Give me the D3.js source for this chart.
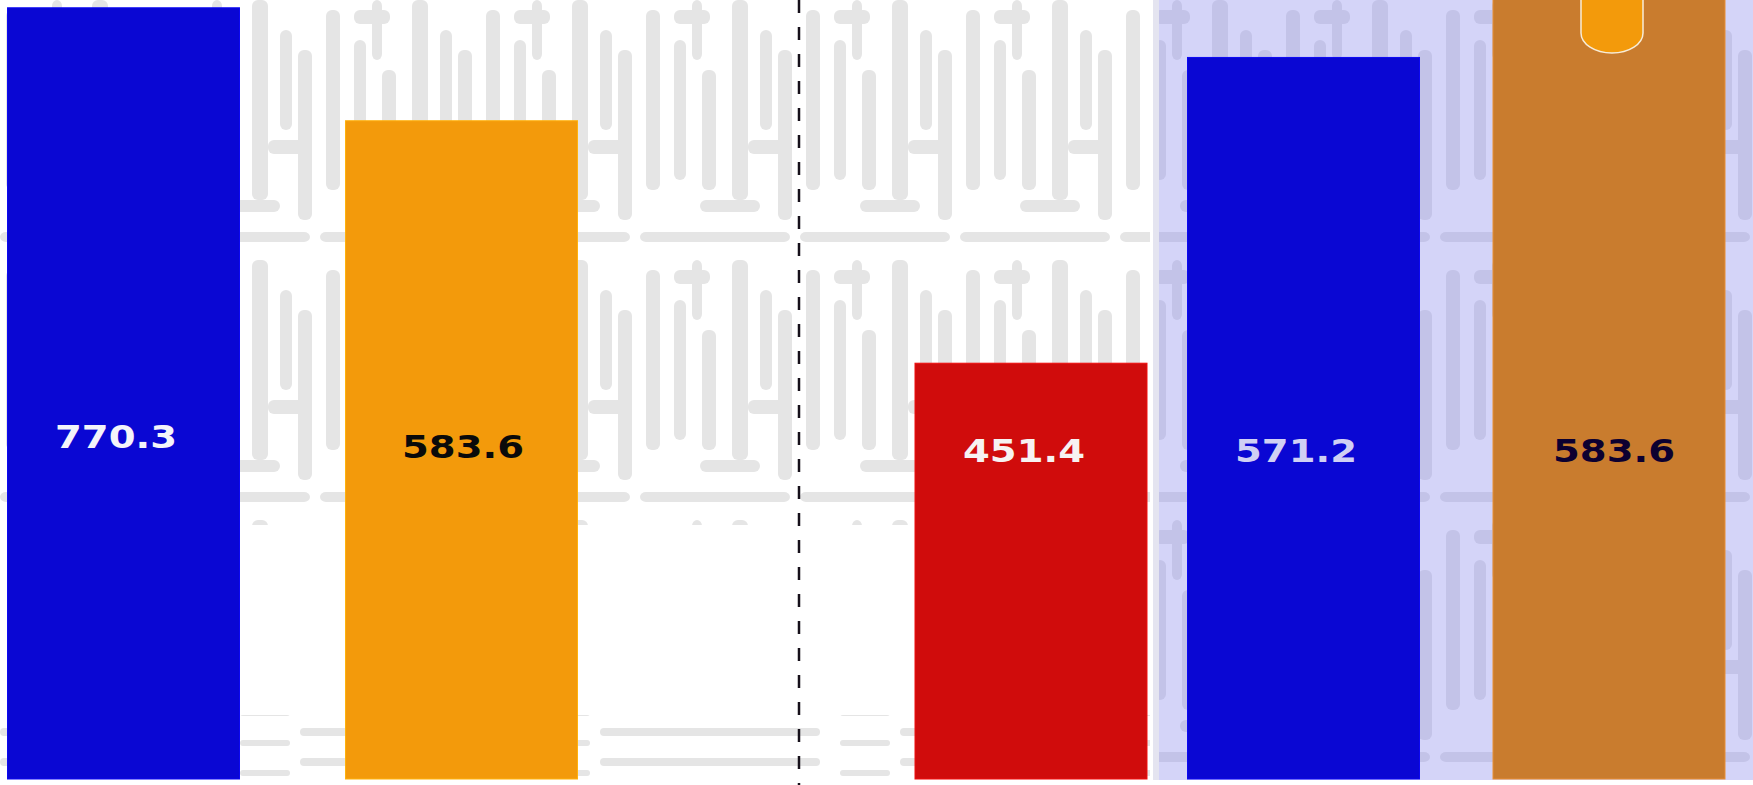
<!DOCTYPE html>
<html><head><meta charset="utf-8">
<script src="https://cdn.jsdelivr.net/npm/d3@7"></script>
<style>html,body{margin:0;padding:0;background:#fff;overflow:hidden}</style>
</head>
<body><svg id="c" width="1753" height="785"></svg>
<script>
// ---- data ----
const categories = ["A", "B", "C", "D", "E"];
const labels = [770.3, 583.6, 451.4, 571.2, 583.6];
// bar lengths as drawn in the picture, on a 0–800 scale
const barHeights = [792, 676, 427, 741, 815];
const barColors = ["#0a07d3", "#f39a0b", "#d00c0c", "#0a07d3", "#c97c2e"];
const labelColors = ["#f4f4fa", "#0a0a0a", "#f7f2f2", "#d0d0f4", "#0c0030"];

// ---- layout ----
const W = 1753, H = 785;
const svg = d3.select("#c");
const y = d3.scaleLinear().domain([0, 800]).range([779, 0]);
const x = d3.scaleOrdinal(categories, [123.5, 461.5, 1031, 1303.5, 1609]);
const labelX = d3.scaleOrdinal(categories, [116, 463, 1024, 1296, 1614]);
const labelY = d3.scaleOrdinal(categories, [437, 447, 451, 451, 451]);
const barW = 232;

// ---- background texture ----
const defs = svg.append("defs");
function tilePattern(id, fill) {
  const p = defs.append("pattern").attr("id", id).attr("patternUnits", "userSpaceOnUse")
    .attr("width", 160).attr("height", 260);
  const shapes = [[6,10,14,180],[34,40,12,140],[52,0,10,60],[62,70,14,120],[92,0,16,200],
                  [120,30,12,100],[138,50,14,170],[34,10,36,14],[108,140,40,14],[60,200,60,12],
                  [0,232,150,10]];
  p.selectAll("rect").data(shapes).join("rect")
    .attr("x", d => d[0]).attr("y", d => d[1]).attr("width", d => d[2]).attr("height", d => d[3])
    .attr("rx", 6).attr("fill", fill);
}
tilePattern("texG", "#e5e5e5");
tilePattern("texL", "#c3c3e8");
const streak = defs.append("pattern").attr("id", "streak").attr("patternUnits", "userSpaceOnUse")
  .attr("width", 300).attr("height", 30);
streak.append("rect").attr("x", 0).attr("y", 8).attr("width", 220).attr("height", 8).attr("rx", 4).attr("fill", "#e5e5e5");
streak.append("rect").attr("x", 240).attr("y", 20).attr("width", 50).attr("height", 6).attr("rx", 3).attr("fill", "#e5e5e5");

svg.append("rect").attr("width", W).attr("height", H).attr("fill", "#ffffff");
svg.append("rect").attr("x", 0).attr("y", 0).attr("width", 1150).attr("height", 525).attr("fill", "url(#texG)");
svg.append("rect").attr("x", 0).attr("y", 715).attr("width", 1150).attr("height", 70).attr("fill", "url(#streak)");

// highlighted region
svg.append("rect").attr("x", 1153).attr("y", 0).attr("width", 8).attr("height", 780).attr("fill", "#e4e4f0");
svg.append("rect").attr("x", 1159).attr("y", 0).attr("width", W - 1159).attr("height", 780).attr("fill", "#d4d4f8");
svg.append("rect").attr("x", 1159).attr("y", 0).attr("width", W - 1159).attr("height", 780).attr("fill", "url(#texL)");

// separator
svg.append("line").attr("x1", 799).attr("x2", 799).attr("y1", 0).attr("y2", H)
  .attr("stroke", "#16101a").attr("stroke-width", 2.5).attr("stroke-dasharray", "13,14");

// ---- bars ----
const data = categories.map((c, i) => ({c, v: labels[i], h: barHeights[i], fill: barColors[i], tc: labelColors[i]}));
svg.append("g").selectAll("rect").data(data).join("rect")
  .attr("x", d => x(d.c) - barW / 2)
  .attr("y", d => y(d.h))
  .attr("width", barW)
  .attr("height", d => y(0) - y(d.h))
  .attr("fill", d => d.fill)
  .attr("stroke", d => d3.color(d.fill).brighter(0.4))
  .attr("stroke-width", 1);

// tab on last bar
svg.append("rect")
  .attr("x", x(categories[4]) + 3 - 31).attr("y", -40)
  .attr("width", 62).attr("height", 93)
  .attr("rx", 31).attr("ry", 20)
  .attr("fill", "#f39a0b").attr("stroke", "#f7ecd8").attr("stroke-width", 1.5);

// ---- labels ----
svg.append("g").selectAll("text").data(data).join("text")
  .attr("x", d => labelX(d.c))
  .attr("y", d => labelY(d.c))
  .attr("text-anchor", "middle")
  .attr("dominant-baseline", "central")
  .attr("font-family", "DejaVu Sans, sans-serif")
  .attr("font-weight", "bold")
  .attr("font-size", 32)
  .attr("textLength", 122)
  .attr("lengthAdjust", "spacingAndGlyphs")
  .attr("fill", d => d.tc)
  .text(d => d3.format(".1f")(d.v));
</script>
</body></html>
